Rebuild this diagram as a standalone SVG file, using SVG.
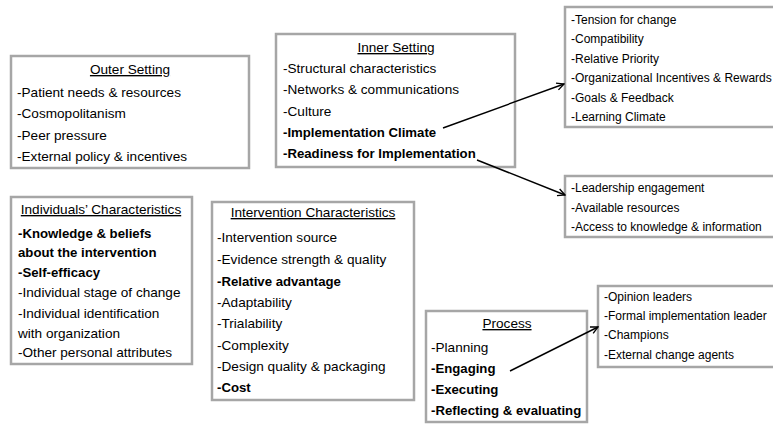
<svg xmlns="http://www.w3.org/2000/svg" width="773" height="424" viewBox="0 0 773 424">
<defs>
<style>
.box{fill:#fff;stroke:#a6a6a6;stroke-width:2.5}
.t{font-family:"Liberation Sans",Arial,sans-serif;font-size:13.6px;fill:#000}
.s{font-family:"Liberation Sans",Arial,sans-serif;font-size:12px;fill:#000}
.h{text-anchor:middle;text-decoration:underline}
.b{font-weight:bold;font-size:13.2px}
.c{stroke:#000;stroke-width:1.4;fill:none}
</style>
<marker id="ah" viewBox="0 0 10 10" refX="9" refY="5" markerWidth="9" markerHeight="9" markerUnits="userSpaceOnUse" orient="auto">
<path d="M1,1 L9,5 L1,9" fill="none" stroke="#000" stroke-width="1.5"/>
</marker>
</defs>
<rect width="773" height="424" fill="#fff"/>
<g id="outer-setting">
<rect class="box" x="11" y="56" width="238" height="112"/>
<text class="t h" x="130" y="74">Outer Setting</text>
<text class="t" x="17" y="97">-Patient needs &amp; resources</text>
<text class="t" x="17" y="118">-Cosmopolitanism</text>
<text class="t" x="17" y="140">-Peer pressure</text>
<text class="t" x="17" y="161">-External policy &amp; incentives</text>
</g>
<g id="inner-setting">
<rect class="box" x="276" y="34" width="239" height="133"/>
<text class="t h" x="396" y="52">Inner Setting</text>
<text class="t" x="283" y="73">-Structural characteristics</text>
<text class="t" x="283" y="94">-Networks &amp; communications</text>
<text class="t" x="283" y="116">-Culture</text>
<text class="t b" x="283" y="137">-Implementation Climate</text>
<text class="t b" x="283" y="158">-Readiness for Implementation</text>
</g>
<g id="implementation-climate">
<rect class="box" x="565" y="7" width="230" height="120"/>
<text class="s" x="571" y="24">-Tension for change</text>
<text class="s" x="571" y="43">-Compatibility</text>
<text class="s" x="571" y="63">-Relative Priority</text>
<text class="s" x="571" y="82">-Organizational Incentives &amp; Rewards</text>
<text class="s" x="571" y="102">-Goals &amp; Feedback</text>
<text class="s" x="571" y="121">-Learning Climate</text>
</g>
<g id="readiness">
<rect class="box" x="565" y="176" width="230" height="61"/>
<text class="s" x="571" y="192">-Leadership engagement</text>
<text class="s" x="571" y="212">-Available resources</text>
<text class="s" x="571" y="231">-Access to knowledge &amp; information</text>
</g>
<g id="individuals">
<rect class="box" x="11" y="197" width="181" height="167"/>
<text class="t h" x="101" y="214">Individuals’ Characteristics</text>
<text class="t b" x="18" y="238">-Knowledge &amp; beliefs</text>
<text class="t b" x="18" y="257">about the intervention</text>
<text class="t b" x="18" y="277">-Self-efficacy</text>
<text class="t" x="18" y="297">-Individual stage of change</text>
<text class="t" x="18" y="318">-Individual identification</text>
<text class="t" x="18" y="338">with organization</text>
<text class="t" x="18" y="357">-Other personal attributes</text>
</g>
<g id="intervention">
<rect class="box" x="212" y="202" width="202" height="198"/>
<text class="t h" x="313" y="217">Intervention Characteristics</text>
<text class="t" x="217" y="242">-Intervention source</text>
<text class="t" x="217" y="264">-Evidence strength &amp; quality</text>
<text class="t b" x="217" y="286">-Relative advantage</text>
<text class="t" x="217" y="307">-Adaptability</text>
<text class="t" x="217" y="328">-Trialability</text>
<text class="t" x="217" y="350">-Complexity</text>
<text class="t" x="217" y="371">-Design quality &amp; packaging</text>
<text class="t b" x="217" y="392">-Cost</text>
</g>
<g id="process">
<rect class="box" x="426" y="311" width="161" height="111"/>
<text class="t h" x="507" y="328">Process</text>
<text class="t" x="431" y="352">-Planning</text>
<text class="t b" x="431" y="373">-Engaging</text>
<text class="t b" x="431" y="394">-Executing</text>
<text class="t b" x="431" y="415">-Reflecting &amp; evaluating</text>
</g>
<g id="engaging">
<rect class="box" x="598" y="286" width="200" height="81"/>
<text class="s" x="604" y="301">-Opinion leaders</text>
<text class="s" x="604" y="320">-Formal implementation leader</text>
<text class="s" x="604" y="339">-Champions</text>
<text class="s" x="604" y="359">-External change agents</text>
</g>
<g id="connectors">
<line class="c" x1="443" y1="128" x2="564" y2="84" marker-end="url(#ah)"/>
<line class="c" x1="477" y1="160" x2="565" y2="195" marker-end="url(#ah)"/>
<line class="c" x1="510" y1="371" x2="598" y2="327" marker-end="url(#ah)"/>
</g>
</svg>
